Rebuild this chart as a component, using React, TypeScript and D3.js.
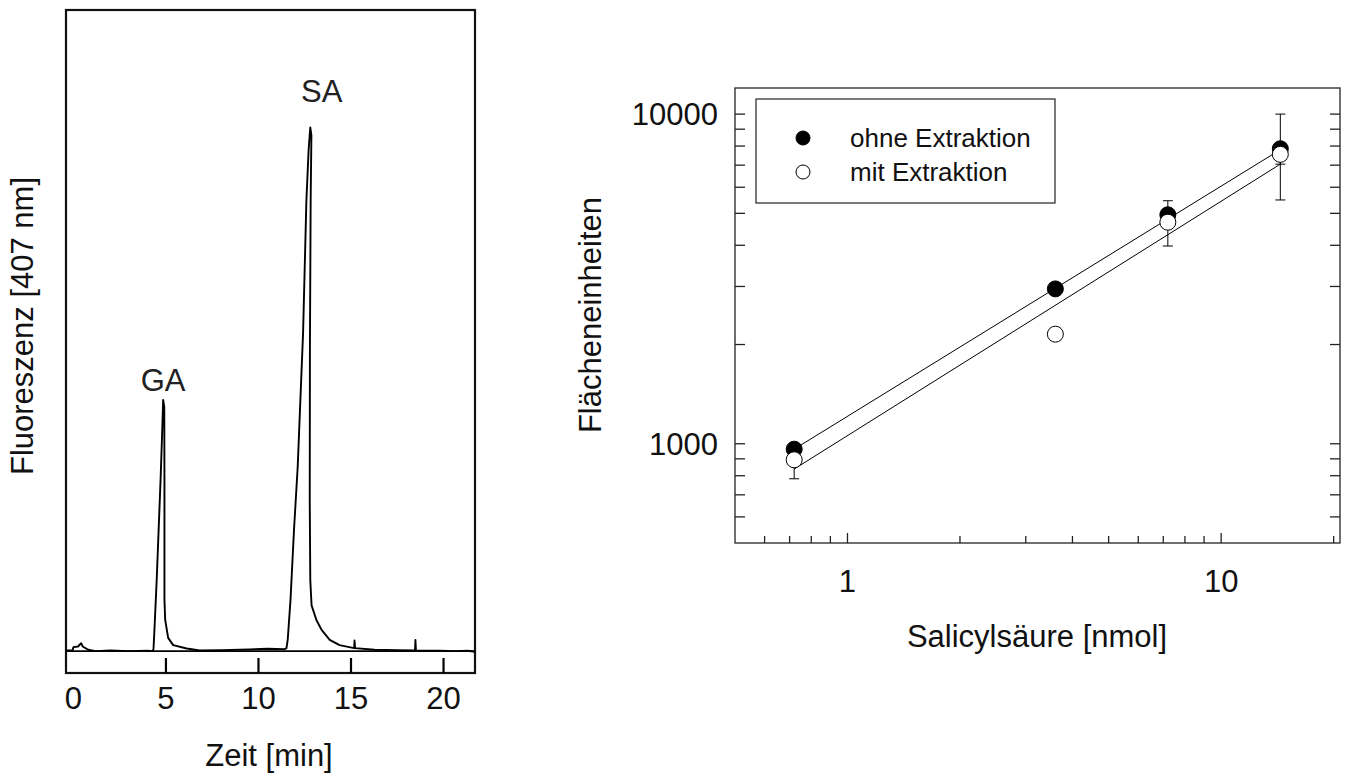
import React from 'react';
import * as d3 from 'd3';

// ---------- Left panel: chromatogram ----------
const chromTime = [
  -0.39, -0.05, 0.0, 0.25, 0.42, 0.5, 0.8, 1.2, 2.0, 3.0, 4.0, 4.3,
  4.33, 4.37, 4.5, 4.64, 4.71, 4.8, 4.85, 4.91, 4.92, 4.92, 4.96, 5.12, 5.39, 6.12, 6.83,
  8.0, 9.5, 10.5, 11.4,
  11.51, 11.58, 11.73, 11.92, 12.12, 12.41, 12.59, 12.71, 12.8, 12.86, 12.82, 12.78, 12.77, 12.8,
  12.87, 13.13, 13.41, 13.85, 14.38, 15.17, 15.19, 15.22, 16.27, 17.5, 18.46, 18.48, 18.51,
  19.8, 20.7, 21.3, 21.7,
];
const chromSignal = [
  0.1, 0.1, 0.6, 0.7, 1.2, 0.7, 0.2, 0.0, 0.1, 0.0, 0.05, 0.0,
  0.45, 2.7, 10.7, 20.8, 25.8, 33.3, 37.9, 36.8, 25.8, 7.7, 4.7, 2.0, 0.9, 0.4, 0.1,
  0.15, 0.25, 0.35, 0.3,
  0.4, 1.7, 7.7, 18.3, 27.8, 48.0, 68.0, 75.6, 79.0, 77.8, 68.0, 45.4, 22.8, 10.7,
  6.9, 4.7, 3.2, 1.7, 0.9, 0.45, 1.6, 0.45, 0.2, 0.15, 0.1, 1.7, 0.1,
  0.05, 0.0, 0.05, -0.1,
];
const timeTicks = [5, 10, 15, 20];
const timeTickLabels = [0, 5, 10, 15, 20];
const peakNames = ['GA', 'SA'];
const peakLabelTime = [4.85, 13.42];
const peakLabelSignal = [39.3, 82.8];

// ---------- Right panel: calibration ----------
const amounts = [0.72, 3.6, 7.2, 14.4];
const ohneValues = [963, 2950, 4950, 7850];
const mitValues = [894, 2150, 4700, 7550];
const ohneErrLow = [963, 2950, 4950, 7050];
const ohneErrHigh = [963, 2950, 5460, 10000];
const mitErrLow = [783, 2150, 3980, 5490];
const mitErrHigh = [894, 2150, 4700, 7550];
const fitAmounts = [0.72, 14.4];
const fitOhne = [963, 7800];
const fitMit = [838, 7050];
const xMajorTicks = [1, 10];
const xMinorTicks = [0.6, 0.7, 0.8, 0.9, 2, 3, 4, 5, 6, 7, 8, 9, 20];
const yMajorTicks = [1000, 10000];
const yMinorTicks = [600, 700, 800, 900, 2000, 3000, 4000, 5000, 6000, 7000, 8000, 9000];
const legendLabels = ['ohne Extraktion', 'mit Extraktion'];

const FONT = '"Liberation Sans", Arial, Helvetica, sans-serif';
const FS = 31;

export default function App() {
  // left scales
  const xT = d3.scaleLinear().domain([-0.4, 21.7]).range([66, 475]);
  const yS = d3.scaleLinear().domain([-3.3, 96.7]).range([673, 10]);
  const chromPts: [number, number][] = chromTime.map((t, i) => [t, chromSignal[i]]);
  const chromPath = d3
    .line<[number, number]>()
    .x((d) => xT(d[0]))
    .y((d) => yS(d[1]))(chromPts) as string;

  // right scales
  const xA = d3.scaleLog().domain([0.5, 20.8]).range([735, 1340]);
  const yF = d3.scaleLog().domain([500, 12000]).range([543, 88]);
  const [x0, x1] = xA.range();
  const [yb, yt] = yF.range();
  const fitLine = d3
    .line<[number, number]>()
    .x((d) => xA(d[0]))
    .y((d) => yF(d[1]));
  const ohneFit = fitLine(fitAmounts.map((a, i) => [a, fitOhne[i]]) as [number, number][]) as string;
  const mitFit = fitLine(fitAmounts.map((a, i) => [a, fitMit[i]]) as [number, number][]) as string;

  const errBars = (vals: number[], lo: number[], hi: number[], key: string) =>
    amounts.map((a, i) => {
      const x = xA(a);
      const parts: React.ReactNode[] = [];
      if (lo[i] < vals[i]) {
        parts.push(<line key={key + 'l' + i} x1={x} x2={x} y1={yF(vals[i])} y2={yF(lo[i])} stroke="#000" strokeWidth={1} />);
        parts.push(<line key={key + 'lc' + i} x1={x - 5} x2={x + 5} y1={yF(lo[i])} y2={yF(lo[i])} stroke="#000" strokeWidth={1} />);
      }
      if (hi[i] > vals[i]) {
        parts.push(<line key={key + 'h' + i} x1={x} x2={x} y1={yF(vals[i])} y2={yF(hi[i])} stroke="#000" strokeWidth={1} />);
        parts.push(<line key={key + 'hc' + i} x1={x - 5} x2={x + 5} y1={yF(hi[i])} y2={yF(hi[i])} stroke="#000" strokeWidth={1} />);
      }
      return parts;
    });

  return (
    <svg width={1347} height={774} style={{ position: 'absolute', left: 0, top: 0, background: '#fff' }} fontFamily={FONT}>
      <rect x={0} y={0} width={1347} height={774} fill="#fff" />
      {/* ---------------- Left panel ---------------- */}
      <rect x={66} y={10} width={409} height={663} fill="none" stroke="#111" strokeWidth={2.2} />
      <line x1={66} x2={475} y1={yS(0)} y2={yS(0)} stroke="#000" strokeWidth={1.8} />
      <path d={chromPath} fill="none" stroke="#000" strokeWidth={1.9} strokeLinejoin="round" />
      {timeTicks.map((t) => (
        <line key={'tt' + t} x1={xT(t)} x2={xT(t)} y1={673} y2={658} stroke="#000" strokeWidth={2.2} />
      ))}
      {timeTickLabels.map((t) => (
        <text key={'tl' + t} x={xT(t)} y={709} fontSize={FS} textAnchor="middle" fill="#111">
          {t}
        </text>
      ))}
      {peakNames.map((n, i) => (
        <text key={n} x={xT(peakLabelTime[i])} y={yS(peakLabelSignal[i])} fontSize={FS} textAnchor="middle" fill="#222">
          {n}
        </text>
      ))}
      <text x={269} y={766} fontSize={FS} textAnchor="middle" fill="#111">
        Zeit [min]
      </text>
      <text transform={`translate(33,326) rotate(-90)`} fontSize={FS} textAnchor="middle" fill="#111">
        Fluoreszenz [407 nm]
      </text>

      {/* ---------------- Right panel ---------------- */}
      <rect x={x0} y={yt} width={x1 - x0} height={yb - yt} fill="none" stroke="#222" strokeWidth={1.3} />
      {xMajorTicks.concat(xMinorTicks).map((v) => (
        <line key={'xt' + v} x1={xA(v)} x2={xA(v)} y1={yb} y2={yb - (xMajorTicks.includes(v) ? 10 : 7)} stroke="#222" strokeWidth={1.3} />
      ))}
      {yMajorTicks.concat(yMinorTicks).map((v) => (
        <g key={'yt' + v}>
          <line x1={x0} x2={x0 + 10} y1={yF(v)} y2={yF(v)} stroke="#222" strokeWidth={1.3} />
          <line x1={x1} x2={x1 - 10} y1={yF(v)} y2={yF(v)} stroke="#222" strokeWidth={1.3} />
        </g>
      ))}
      {xMajorTicks.map((v) => (
        <text key={'xl' + v} x={xA(v)} y={592} fontSize={FS} textAnchor="middle" fill="#111">
          {String(v)}
        </text>
      ))}
      {yMajorTicks.map((v) => (
        <text key={'yl' + v} x={718} y={yF(v) + 11} fontSize={FS} textAnchor="end" fill="#111">
          {String(v)}
        </text>
      ))}
      <text x={1037} y={647} fontSize={FS} textAnchor="middle" fill="#111">
        Salicylsäure [nmol]
      </text>
      <text transform={`translate(601,315) rotate(-90)`} fontSize={FS} textAnchor="middle" fill="#111">
        Flächeneinheiten
      </text>

      <path d={ohneFit} fill="none" stroke="#000" strokeWidth={1} />
      <path d={mitFit} fill="none" stroke="#000" strokeWidth={1} />
      {errBars(ohneValues, ohneErrLow, ohneErrHigh, 'o')}
      {errBars(mitValues, mitErrLow, mitErrHigh, 'm')}
      {amounts.map((a, i) => (
        <circle key={'fo' + i} cx={xA(a)} cy={yF(ohneValues[i])} r={8} fill="#000" stroke="#000" strokeWidth={1} />
      ))}
      {amounts.map((a, i) => (
        <circle key={'fm' + i} cx={xA(a)} cy={yF(mitValues[i])} r={8} fill="#fff" stroke="#000" strokeWidth={1} />
      ))}

      {/* legend */}
      <rect x={756} y={99} width={299} height={104} fill="#fff" stroke="#222" strokeWidth={1.2} />
      {legendLabels.map((l, i) => (
        <g key={l}>
          <circle cx={803} cy={138 + i * 34} r={7} fill={i === 0 ? '#000' : '#fff'} stroke="#000" strokeWidth={1} />
          <text x={850} y={147 + i * 34} fontSize={26} fill="#111">
            {l}
          </text>
        </g>
      ))}
    </svg>
  );
}
